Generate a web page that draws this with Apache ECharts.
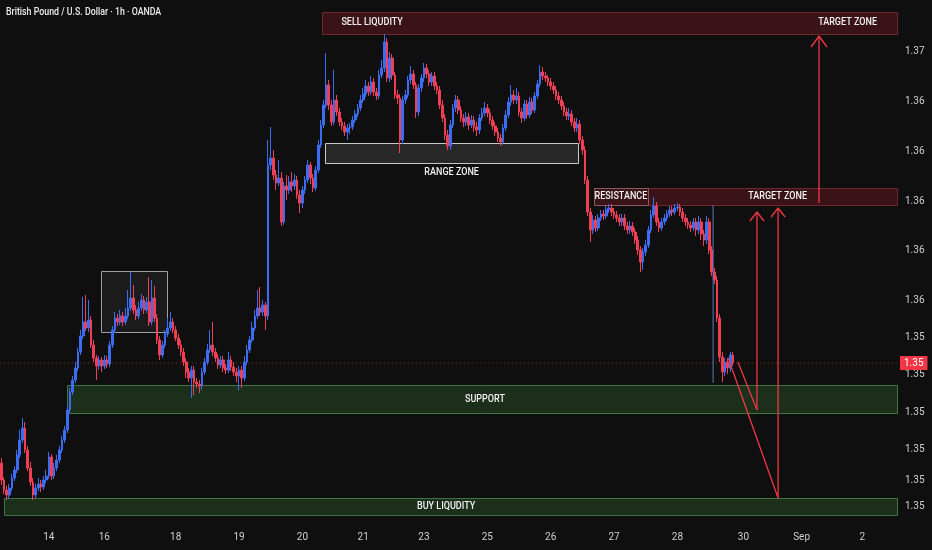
<!DOCTYPE html>
<html><head><meta charset="utf-8">
<script src="https://cdn.jsdelivr.net/npm/echarts@6/dist/echarts.min.js"></script>
<style>html,body{margin:0;padding:0;background:#0f0f0f}#c{width:932px;height:550px}</style>
</head><body><div id="c"></div>
<script>
const chartTitle = 'British Pound / U.S. Dollar · 1h · OANDA';
const slotCount = 340;
const dayLabels = ['14','16','18','19','20','21','23','25','26','27','28','30','Sep','2'];
const dayLabelSlots = [18,39,66,90,114,137,160,184,208,232,256,281,303,326];

const firstOpen = 1.35352;
const closes = [
1.35284,1.35244,1.35224,1.35252,1.35292,1.35324,1.35384,1.35444,1.35492,1.35404,
1.35332,1.35276,1.35224,1.35252,1.35268,1.35256,1.35284,1.35300,1.35376,1.35300,
1.35332,1.35364,1.35404,1.35444,1.35484,1.35564,1.35636,1.35684,1.35732,1.35796,
1.35860,1.35916,1.35892,1.35924,1.35824,1.35772,1.35740,1.35764,1.35740,1.35764,
1.35748,1.35824,1.35884,1.35932,1.35916,1.35940,1.35916,1.35940,1.35972,1.36012,
1.35964,1.35940,1.35972,1.36004,1.35964,1.35996,1.35916,1.36012,1.35932,1.35844,
1.35784,1.35824,1.35868,1.35892,1.35916,1.35884,1.35852,1.35824,1.35796,1.35756,
1.35716,1.35692,1.35724,1.35676,1.35668,1.35660,1.35716,1.35756,1.35804,1.35824,
1.35796,1.35772,1.35744,1.35764,1.35732,1.35724,1.35764,1.35736,1.35716,1.35700,
1.35724,1.35692,1.35756,1.35804,1.35844,1.35892,1.35940,1.35972,1.35956,1.35984,
1.35940,1.36544,1.36572,1.36504,1.36472,1.36492,1.36316,1.36460,1.36444,1.36476,
1.36460,1.36484,1.36424,1.36392,1.36444,1.36484,1.36544,1.36492,1.36452,1.36524,
1.36624,1.36704,1.36784,1.36864,1.36784,1.36716,1.36804,1.36756,1.36716,1.36700,
1.36676,1.36692,1.36696,1.36724,1.36748,1.36772,1.36804,1.36828,1.36860,1.36836,
1.36876,1.36836,1.36820,1.36904,1.36932,1.37036,1.36892,1.36972,1.36904,1.36824,
1.36812,1.36644,1.36804,1.36824,1.36884,1.36908,1.36864,1.36756,1.36852,1.36892,
1.36932,1.36908,1.36876,1.36900,1.36860,1.36844,1.36784,1.36732,1.36664,1.36620,
1.36704,1.36772,1.36804,1.36764,1.36732,1.36716,1.36736,1.36704,1.36724,1.36696,
1.36684,1.36732,1.36752,1.36772,1.36752,1.36724,1.36700,1.36676,1.36652,1.36636,
1.36692,1.36744,1.36796,1.36824,1.36804,1.36820,1.36756,1.36732,1.36788,1.36744,
1.36796,1.36764,1.36820,1.36868,1.36916,1.36900,1.36892,1.36876,1.36860,1.36844,
1.36820,1.36804,1.36780,1.36756,1.36740,1.36748,1.36716,1.36692,1.36708,1.36644,
1.36604,1.36484,1.36356,1.36284,1.36324,1.36292,1.36332,1.36348,1.36340,1.36364,
1.36372,1.36356,1.36344,1.36332,1.36316,1.36332,1.36300,1.36284,1.36300,1.36276,
1.36244,1.36204,1.36156,1.36196,1.36224,1.36284,1.36344,1.36380,1.36316,1.36292,
1.36316,1.36332,1.36348,1.36364,1.36356,1.36372,1.36376,1.36356,1.36332,1.36316,
1.36304,1.36292,1.36316,1.36284,1.36316,1.36268,1.36244,1.36316,1.36204,1.36116,
1.36084,1.35932,1.35776,1.35716,1.35756,1.35732,1.35784,1.35752
];
const highs = [
1.35372,1.35296,1.35260,1.35268,1.35308,1.35340,1.35404,1.35484,1.35532,1.35516,
1.35420,1.35356,1.35292,1.35268,1.35292,1.35284,1.35300,1.35324,1.35396,1.35388,
1.35352,1.35384,1.35420,1.35460,1.35500,1.35584,1.35652,1.35700,1.35756,1.35812,
1.35884,1.36016,1.36024,1.36004,1.35940,1.35844,1.35784,1.35780,1.35776,1.35784,
1.35780,1.35840,1.35900,1.35956,1.35948,1.35964,1.35956,1.35972,1.36044,1.36116,
1.36064,1.35984,1.35996,1.36028,1.36020,1.36016,1.36096,1.36084,1.36060,1.35948,
1.35860,1.35840,1.35884,1.35932,1.35956,1.35932,1.35900,1.35868,1.35844,1.35812,
1.35772,1.35732,1.35740,1.35740,1.35692,1.35684,1.35732,1.35772,1.35828,1.35884,
1.35916,1.35812,1.35788,1.35780,1.35780,1.35748,1.35796,1.35780,1.35756,1.35732,
1.35740,1.35740,1.35780,1.35824,1.35860,1.35916,1.35964,1.36044,1.36056,1.36004,
1.35996,1.36644,1.36696,1.36604,1.36524,1.36564,1.36516,1.36476,1.36504,1.36500,
1.36516,1.36508,1.36500,1.36444,1.36460,1.36500,1.36564,1.36556,1.36508,1.36540,
1.36644,1.36724,1.36804,1.36992,1.36884,1.36804,1.36924,1.36824,1.36772,1.36732,
1.36716,1.36708,1.36712,1.36740,1.36764,1.36788,1.36824,1.36852,1.36884,1.36876,
1.36900,1.36892,1.36852,1.36924,1.36964,1.37068,1.37052,1.36996,1.36988,1.36916,
1.36844,1.36828,1.36820,1.36844,1.36900,1.36940,1.36924,1.36876,1.36868,1.36908,
1.36952,1.36948,1.36924,1.36916,1.36916,1.36876,1.36860,1.36804,1.36748,1.36684,
1.36724,1.36788,1.36824,1.36820,1.36780,1.36748,1.36756,1.36752,1.36744,1.36740,
1.36716,1.36748,1.36772,1.36796,1.36788,1.36768,1.36740,1.36716,1.36692,1.36668,
1.36708,1.36764,1.36816,1.36864,1.36844,1.36852,1.36836,1.36772,1.36804,1.36804,
1.36816,1.36812,1.36836,1.36884,1.36944,1.36936,1.36916,1.36904,1.36892,1.36876,
1.36860,1.36836,1.36820,1.36796,1.36772,1.36772,1.36764,1.36732,1.36732,1.36724,
1.36660,1.36620,1.36500,1.36372,1.36344,1.36340,1.36348,1.36364,1.36364,1.36380,
1.36388,1.36388,1.36372,1.36360,1.36348,1.36348,1.36348,1.36316,1.36320,1.36316,
1.36292,1.36260,1.36220,1.36212,1.36244,1.36300,1.36364,1.36416,1.36396,1.36332,
1.36332,1.36348,1.36364,1.36380,1.36380,1.36388,1.36392,1.36388,1.36372,1.36348,
1.36332,1.36320,1.36332,1.36332,1.36340,1.36332,1.36284,1.36340,1.36332,1.36220,
1.36132,1.36100,1.35948,1.35796,1.35772,1.35772,1.35796,1.35796
];
const lows = [
1.35264,1.35228,1.35204,1.35208,1.35240,1.35280,1.35312,1.35372,1.35432,1.35392,
1.35320,1.35260,1.35204,1.35212,1.35240,1.35236,1.35244,1.35272,1.35288,1.35284,
1.35288,1.35320,1.35352,1.35392,1.35432,1.35472,1.35552,1.35624,1.35672,1.35720,
1.35784,1.35848,1.35880,1.35876,1.35812,1.35756,1.35684,1.35724,1.35716,1.35728,
1.35732,1.35736,1.35812,1.35872,1.35900,1.35904,1.35900,1.35904,1.35928,1.35960,
1.35948,1.35924,1.35928,1.35960,1.35948,1.35952,1.35900,1.35904,1.35916,1.35828,
1.35764,1.35772,1.35812,1.35856,1.35880,1.35872,1.35840,1.35808,1.35780,1.35740,
1.35692,1.35676,1.35612,1.35624,1.35652,1.35632,1.35644,1.35704,1.35744,1.35792,
1.35780,1.35756,1.35728,1.35732,1.35716,1.35708,1.35712,1.35720,1.35700,1.35676,
1.35644,1.35652,1.35680,1.35744,1.35792,1.35832,1.35880,1.35928,1.35940,1.35940,
1.35884,1.35924,1.36524,1.36484,1.36444,1.36460,1.36300,1.36304,1.36404,1.36428,
1.36436,1.36444,1.36408,1.36352,1.36372,1.36428,1.36472,1.36468,1.36436,1.36440,
1.36512,1.36612,1.36692,1.36772,1.36764,1.36700,1.36704,1.36740,1.36700,1.36684,
1.36660,1.36644,1.36668,1.36684,1.36712,1.36736,1.36760,1.36792,1.36816,1.36820,
1.36824,1.36820,1.36804,1.36808,1.36892,1.36916,1.36876,1.36876,1.36884,1.36808,
1.36788,1.36592,1.36628,1.36788,1.36812,1.36868,1.36848,1.36732,1.36740,1.36836,
1.36876,1.36892,1.36860,1.36860,1.36844,1.36828,1.36768,1.36716,1.36644,1.36604,
1.36604,1.36692,1.36756,1.36748,1.36716,1.36696,1.36700,1.36684,1.36692,1.36676,
1.36660,1.36668,1.36720,1.36740,1.36736,1.36708,1.36684,1.36660,1.36636,1.36620,
1.36624,1.36680,1.36732,1.36780,1.36788,1.36788,1.36740,1.36712,1.36720,1.36728,
1.36732,1.36748,1.36752,1.36808,1.36856,1.36884,1.36876,1.36860,1.36844,1.36828,
1.36804,1.36788,1.36764,1.36740,1.36724,1.36724,1.36700,1.36676,1.36676,1.36628,
1.36584,1.36468,1.36340,1.36236,1.36268,1.36276,1.36280,1.36320,1.36324,1.36328,
1.36352,1.36340,1.36328,1.36316,1.36300,1.36300,1.36284,1.36268,1.36268,1.36260,
1.36228,1.36184,1.36116,1.36124,1.36180,1.36212,1.36272,1.36332,1.36300,1.36276,
1.36280,1.36304,1.36320,1.36336,1.36340,1.36344,1.36360,1.36340,1.36316,1.36300,
1.36288,1.36276,1.36280,1.36260,1.36268,1.36244,1.36220,1.36228,1.36188,1.36100,
1.36068,1.35916,1.35756,1.35676,1.35700,1.35708,1.35716,1.35740
];

const priceMin = 1.35116, priceMax = 1.37204;
const priceTicks = [1.37000,1.36800,1.36600,1.36397,1.36201,1.36004,1.35856,1.35708,1.35556,1.35408,1.35284,1.35180];
const priceTickLabels = ['1.37','1.36','1.36','1.36','1.36','1.36','1.35','1.35','1.35','1.35','1.35','1.35'];
const lastPriceLabel = '1.35';

// annotation zones: [slotFrom, priceTop, slotTo, priceBottom, styleIndex]
const sellZone = [121.9, 1.37156, 339.6, 1.37068, 0];
const resistanceZone = [224.9, 1.36452, 339.6, 1.36384, 0];
const resistanceTag = [224.9, 1.36452, 245.4, 1.36384, 1];
const rangeZone = [123.1, 1.36632, 218.9, 1.36552, 2];
const consolidationBox = [38.2, 1.36120, 63.2, 1.35876, 3];
const supportZone = [25.4, 1.35664, 339.6, 1.35552, 4];
const buyZone = [1.5, 1.35212, 339.6, 1.35144, 4];

const noteTexts = ['SELL LIQUDITY','TARGET ZONE','RANGE ZONE','RESISTANCE','TARGET ZONE','SUPPORT','BUY LIQUDITY'];
const notePositions = [[140.9,1.37114],[320.9,1.37114],[171.0,1.36516],[235.1,1.36418],[294.4,1.36418],[183.6,1.35608],[168.9,1.35178]];

const arrowA = [[279.4,1.35756],[286.6,1.35564],[286.6,1.36356]];
const arrowB = [[275.7,1.35772],[294.6,1.35212],[294.6,1.36372]];
const arrowC = [[310.1,1.36392],[310.1,1.37060]];
const headA = [[283.95,1.36320],[286.6,1.36356],[289.25,1.36320]];
const headB = [[291.95,1.36336],[294.6,1.36372],[297.25,1.36336]];
const headC = [[307.1,1.37016],[310.1,1.37060],[313.1,1.37016]];
const markerLine = [[270.0,1.36384],[270.0,1.35672]];

const up = '#3c6cf2', down = '#f03e55', red = '#f23645';
const font = "Roboto,'DejaVu Sans',sans-serif";
const zoneStyles = [
  {fill:'rgba(110,24,34,0.45)', stroke:'#70262d'},
  {fill:'rgba(0,0,0,0)', stroke:'#8a5a5e'},
  {fill:'rgba(90,90,90,0.35)', stroke:'#c8c8c8'},
  {fill:'rgba(255,255,255,0.05)', stroke:'#a0a0a0'},
  {fill:'rgba(40,80,40,0.5)', stroke:'#3f7442'}
];

const opens = closes.map((c, i) => i === 0 ? firstOpen : closes[i - 1]);
const candles = closes.map((c, i) => [opens[i], c, lows[i], highs[i]]);
const categories = Array.from({length: slotCount}, (_, i) => 'h' + i);
const slotLabel = {};
dayLabelSlots.forEach((s, k) => { slotLabel['h' + s] = dayLabels[k]; });
const lastClose = closes[closes.length - 1];

function pathSeries(data, width, color, z, type) {
  return {type:'line', xAxisIndex:1, yAxisIndex:0, data:data, showSymbol:false, symbol:'none',
    lineStyle:{color:color, width:width, type:type || 'solid'}, z:z, silent:true, animation:false};
}

const chart = echarts.init(document.getElementById('c'));
chart.setOption({
  backgroundColor:'#0f0f0f',
  animation:false,
  graphic:[{type:'text', left:6, top:7, scaleX:0.8, silent:true,
    style:{text:chartTitle, fill:'#ececec', font:"500 11px Roboto, 'DejaVu Sans', sans-serif"}}],
  grid:{left:0, right:34, top:0, bottom:28, containLabel:false},
  xAxis:[
    {type:'category', data:categories, boundaryGap:true,
     axisLine:{show:false}, axisTick:{show:false}, splitLine:{show:false},
     axisLabel:{color:'#cfcfcf', fontSize:10, fontFamily:font, margin:10,
       interval:(i) => dayLabelSlots.indexOf(i) >= 0,
       formatter:(v) => slotLabel[v] || ''}},
    {type:'value', min:0, max:slotCount, show:false}
  ],
  yAxis:{type:'value', position:'right', min:priceMin, max:priceMax, scale:true,
    axisLine:{show:false}, axisTick:{show:false}, splitLine:{show:false},
    axisLabel:{color:'#cfcfcf', fontSize:10, fontFamily:font, margin:7, customValues:priceTicks,
      formatter:(v) => { let k = 0, best = 1; priceTicks.forEach((t, j) => { const d = Math.abs(t - v); if (d < best) { best = d; k = j; } }); return priceTickLabels[k]; }}},
  series:[
    {type:'custom', xAxisIndex:1, yAxisIndex:0, z:1, silent:true,
     data:[sellZone, resistanceZone, resistanceTag, rangeZone, consolidationBox, supportZone, buyZone],
     encode:{x:[0,2], y:[1,3]},
     renderItem:(params, api) => {
       const p1 = api.coord([api.value(0), api.value(1)]);
       const p2 = api.coord([api.value(2), api.value(3)]);
       const st = zoneStyles[api.value(4)];
       return {type:'rect', shape:{x:Math.round(Math.min(p1[0],p2[0]))+0.5, y:Math.round(Math.min(p1[1],p2[1]))+0.5,
         width:Math.round(Math.abs(p2[0]-p1[0])), height:Math.round(Math.abs(p2[1]-p1[1]))},
         style:{fill:st.fill, stroke:st.stroke, lineWidth:1}};
     }},
    {type:'candlestick', xAxisIndex:0, yAxisIndex:0, data:candles, barWidth:2.2, z:2,
     itemStyle:{color:up, color0:down, borderColor:up, borderColor0:down, borderWidth:1}},
    Object.assign(pathSeries([[0, lastClose],[slotCount, lastClose]], 1, 'rgba(200,50,60,0.7)', 3, [1,3]), {
      endLabel:{show:true, formatter:lastPriceLabel, color:'#ffffff', backgroundColor:red,
        padding:[2,4,2,4], fontSize:10, fontFamily:font, distance:2}}),
    pathSeries(markerLine, 1, 'rgba(100,140,220,0.85)', 3),
    pathSeries(arrowA, 1.3, red, 5),
    pathSeries(arrowB, 1.3, red, 5),
    pathSeries(arrowC, 1.3, red, 5),
    pathSeries(headA, 1.3, red, 5),
    pathSeries(headB, 1.3, red, 5),
    pathSeries(headC, 1.3, red, 5),
    {type:'custom', xAxisIndex:1, yAxisIndex:0, z:6, silent:true,
     data:notePositions.map((p, k) => [p[0], p[1], k]),
     encode:{x:0, y:1},
     renderItem:(params, api) => {
       const p = api.coord([api.value(0), api.value(1)]);
       return {type:'text', x:p[0], y:p[1], scaleX:0.82,
         style:{text:noteTexts[api.value(2)], fill:'#f2f2f2', font:"500 11px Roboto, 'DejaVu Sans', sans-serif",
           align:'center', verticalAlign:'middle'}};
     }}
  ]
});
</script></body></html>
